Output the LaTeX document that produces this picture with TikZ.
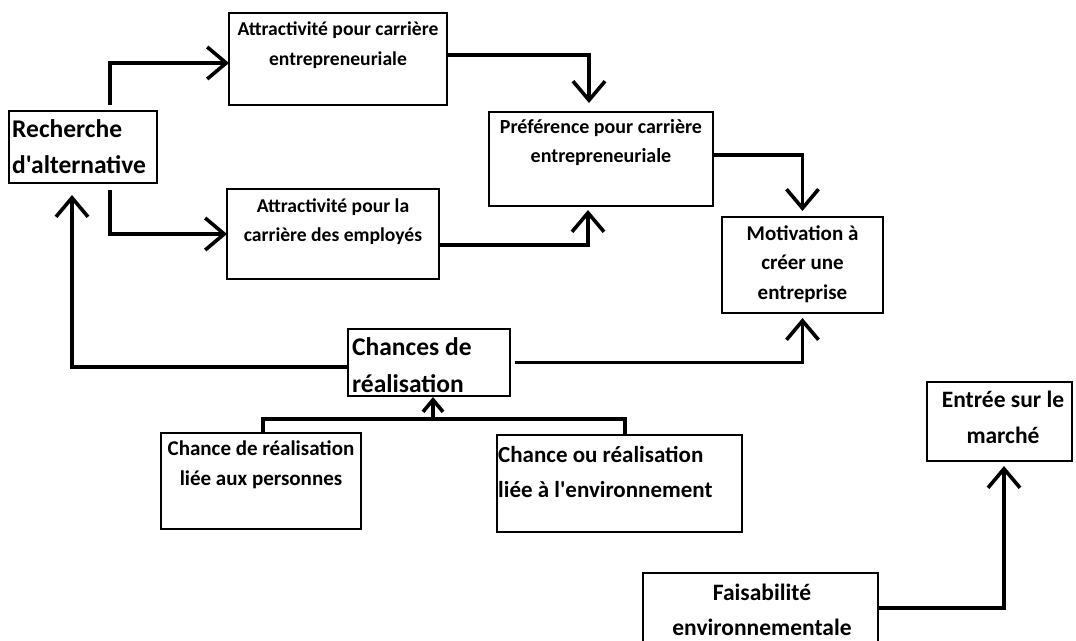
\documentclass[tikz,border=0pt]{standalone}
\usepackage{fontspec}
\setmainfont{Carlito}[Ligatures=TeXOff]
\usetikzlibrary{arrows.meta}
% multi-line label whose baseline is that of its first row
\newcommand\rows[2]{\begin{tabular}[t]{@{}#1@{}}#2\end{tabular}}
\begin{document}
\begin{tikzpicture}[x=1pt, y=-1pt,
  box/.style={draw=black, line width=1.6pt, inner sep=0pt, outer sep=0pt},
  txt/.style={inner sep=0pt, anchor=base},
  ltxt/.style={inner sep=0pt, anchor=base west},
  fs/.style 2 args={font=\fontsize{#1}{#2}\selectfont\bfseries},
  conn/.style={draw=black, line width=3.6pt,
    -{Straight Barb[length=19pt, width=32pt]}},
  smallconn/.style={draw=black, line width=3.6pt,
    -{Straight Barb[length=12pt, width=20pt]}},
  link/.style={draw=black, line width=3.6pt}]

\fill[white] (0,0) rectangle (1076,640);
\useasboundingbox (0,0) rectangle (1076,640);
\clip (0,0) rectangle (1076,640);

% boxes
\node[box, minimum width=148pt, minimum height=72pt] (rech)    at (83,147)    {};
\node[box, minimum width=218pt, minimum height=92pt] (att1)    at (338,59)    {};
\node[box, minimum width=212pt, minimum height=90pt] (att2)    at (333,234)   {};
\node[box, minimum width=224pt, minimum height=94pt] (pref)    at (601,159)   {};
\node[box, minimum width=161pt, minimum height=96pt] (motiv)   at (802.5,265) {};
\node[box, minimum width=162pt, minimum height=67pt] (chances) at (429,362.5) {};
\node[box, minimum width=200pt, minimum height=96pt] (pers)    at (261,481)   {};
\node[box, minimum width=245pt, minimum height=97pt] (env)     at (619.5,483.5) {};
\node[box, minimum width=145pt, minimum height=79pt] (entree)  at (999.5,421.5) {};
\node[box, minimum width=235pt, minimum height=77pt] (faisa)   at (760.5,611.5) {};

% labels
\node[ltxt, fs={25.5}{36}] (rechT) at (12,137)
  {\rows{l}{Recherche\\d'alternative}};
\node[txt, fs={19.6}{30}] (att1T) at (338,35)
  {\rows{c}{Attractivité pour carrière\\entrepreneuriale}};
\node[txt, fs={19.6}{29}] (att2T) at (333,212)
  {\rows{c}{Attractivité pour la\\carrière des employés}};
\node[txt, fs={20}{29}] (prefT) at (601,133)
  {\rows{c}{Préférence pour carrière\\entrepreneuriale}};
\node[txt, fs={21}{29.5}] (motivT) at (802.5,240)
  {\rows{c}{Motivation à\\créer une\\entreprise}};
\node[ltxt, fs={25.5}{37}] (chancesT) at (352,355)
  {\rows{l}{Chances de\\réalisation}};
\node[txt, fs={21}{30}] (persT) at (261,455)
  {\rows{c}{Chance de réalisation\\liée aux personnes}};
\node[ltxt, fs={23}{35}] (envT) at (498,462)
  {\rows{l}{Chance ou réalisation\\liée à l'environnement}};
\node[txt, fs={23.5}{36}] (entreeT) at (1003,407)
  {\rows{c}{Entrée sur le\\marché}};
\node[txt, fs={23.5}{35}] (faisaT) at (762,600)
  {\rows{c}{Faisabilité\\environnementale}};

% connectors
\draw[conn] ([xshift=27pt, yshift=6pt]rech.north) |- ([yshift=-4pt]att1.west);
\draw[conn] ([xshift=27pt, yshift=-7pt]rech.south) |- (att2.west);
\draw[conn] ([yshift=4pt]att1.east) -| ([xshift=-12pt, yshift=9pt]pref.north);
\draw[conn] ([yshift=-11pt]att2.east) -| ([xshift=-13pt, yshift=-4pt]pref.south);
\draw[conn] ([yshift=4pt]pref.east) -| ([yshift=6pt]motiv.north);
\draw[conn] ([yshift=-4.5pt]chances.west) -| ([xshift=-11pt, yshift=-12pt]rech.south);
\draw[conn] ([xshift=5pt]chances.east) -| ([yshift=-5pt]motiv.south);
\coordinate (join) at (433,419);
\draw[link] ([xshift=2pt]pers.north) |- (join) -| ([xshift=5.5pt]env.north);
\draw[smallconn] (join) -- ([xshift=4pt, yshift=-1pt]chances.south);
\draw[conn] ([yshift=3.5pt]faisa.east) -| ([xshift=4.5pt, yshift=-5pt]entree.south);
\end{tikzpicture}
\end{document}
